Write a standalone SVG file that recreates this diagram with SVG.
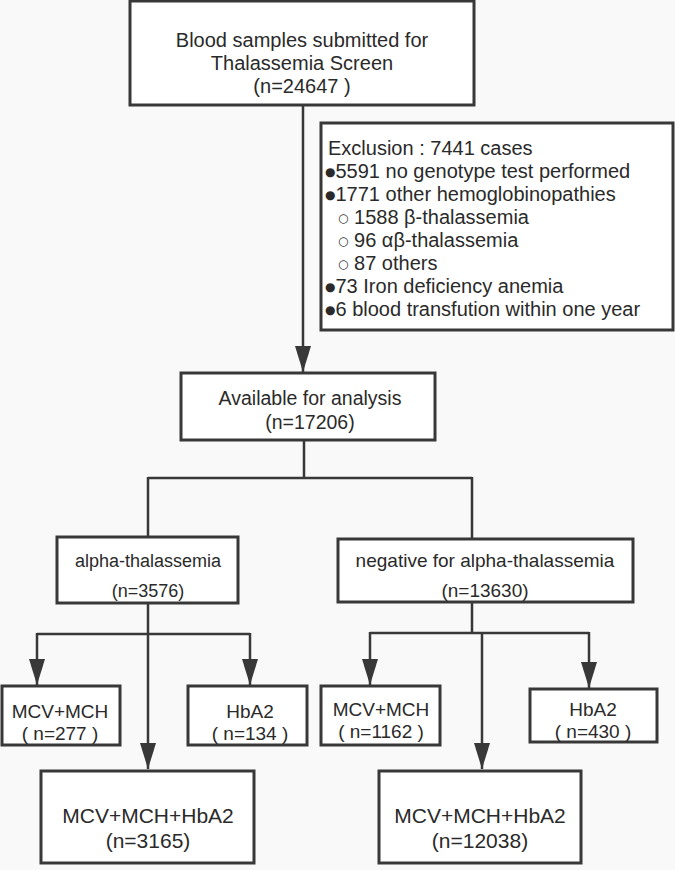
<svg xmlns="http://www.w3.org/2000/svg" width="675" height="870" viewBox="0 0 675 870">
<defs>
<style>
.bg{fill:#f9f9f9}
.box{fill:#ffffff;stroke:#383838;stroke-width:3}
.ln{fill:none;stroke:#383838;stroke-width:2.5}
text{font-family:"Liberation Sans","Arial",sans-serif;fill:#2a2a2a;font-size:20px}
.c{text-anchor:middle}
.b{font-family:"DejaVu Sans",sans-serif;font-size:12px}
.m{font-size:18px}
.n{font-size:19px}
.av{font-size:19.5px}
.r3{font-size:19px}
.lg{font-size:21px}
</style>
<marker id="ah" markerUnits="userSpaceOnUse" markerWidth="26" markerHeight="16" refX="26" refY="8" orient="auto">
<path d="M0,0 L26,8 L0,16 z" fill="#383838"/>
</marker>
</defs>
<rect class="bg" x="0" y="0" width="675" height="870"/>
<g id="connectors">
<path class="ln" d="M303,105 V372" marker-end="url(#ah)"/>
<path class="ln" d="M304,440 V478 M148,478 H472 M148,477 V537 M472,477 V539"/>
<path class="ln" d="M148,603 V769" marker-end="url(#ah)"/>
<path class="ln" d="M37,634 H250"/>
<path class="ln" d="M37,633 V685" marker-end="url(#ah)"/>
<path class="ln" d="M250,633 V685" marker-end="url(#ah)"/>
<path class="ln" d="M472,602 V633 M370,633 H589"/>
<path class="ln" d="M370,632 V685" marker-end="url(#ah)"/>
<path class="ln" d="M589,632 V688" marker-end="url(#ah)"/>
<path class="ln" d="M482,633 V769" marker-end="url(#ah)"/>
</g>
<g id="n_top">
<rect class="box" x="130" y="1" width="344" height="104"/>
<text class="c" x="302" y="47">Blood samples submitted for</text>
<text class="c" x="302" y="70">Thalassemia Screen</text>
<text class="c" x="302" y="93">(n=24647 )</text>
</g>
<g id="n_exclusion">
<rect class="box" x="321" y="123" width="352" height="207"/>
<text x="328" y="155">Exclusion : 7441 cases</text>
<text x="325" y="178"><tspan class="b" dy="-2">●</tspan><tspan dy="2">5591 no genotype test performed</tspan></text>
<text x="325" y="201"><tspan class="b" dy="-2">●</tspan><tspan dy="2">1771 other hemoglobinopathies</tspan></text>
<text x="338" y="224"><tspan class="b" dy="-2">○</tspan><tspan dy="2"> 1588 β-thalassemia</tspan></text>
<text x="338" y="247"><tspan class="b" dy="-2">○</tspan><tspan dy="2"> 96 αβ-thalassemia</tspan></text>
<text x="338" y="270"><tspan class="b" dy="-2">○</tspan><tspan dy="2"> 87 others</tspan></text>
<text x="325" y="293"><tspan class="b" dy="-2">●</tspan><tspan dy="2">73 Iron deficiency anemia</tspan></text>
<text x="325" y="316"><tspan class="b" dy="-2">●</tspan><tspan dy="2">6 blood transfution within one year</tspan></text>
</g>
<g id="n_available">
<rect class="box" x="181" y="373" width="254" height="67"/>
<text class="c av" x="310" y="405">Available for analysis</text>
<text class="c av" x="310" y="429">(n=17206)</text>
</g>
<g id="n_alpha">
<rect class="box" x="57" y="537" width="181" height="66"/>
<text class="c m" x="148" y="567">alpha-thalassemia</text>
<text class="c m" x="148" y="597">(n=3576)</text>
</g>
<g id="n_negative">
<rect class="box" x="338" y="539" width="295" height="63"/>
<text class="c n" x="485" y="567">negative for alpha-thalassemia</text>
<text class="c n" x="485" y="597">(n=13630)</text>
</g>
<g id="n_a_mcvmch">
<rect class="box" x="2" y="686" width="118" height="59"/>
<text class="c r3" x="60" y="718">MCV+MCH</text>
<text class="c r3" x="60" y="740">( n=277 )</text>
</g>
<g id="n_a_hba2">
<rect class="box" x="188" y="686" width="119" height="59"/>
<text class="c r3" x="250" y="718">HbA2</text>
<text class="c r3" x="250" y="740">( n=134 )</text>
</g>
<g id="n_n_mcvmch">
<rect class="box" x="321" y="686" width="119" height="59"/>
<text class="c r3" x="381" y="716">MCV+MCH</text>
<text class="c r3" x="381" y="738">( n=1162 )</text>
</g>
<g id="n_n_hba2">
<rect class="box" x="530" y="689" width="127" height="53"/>
<text class="c r3" x="593" y="716">HbA2</text>
<text class="c r3" x="593" y="738">( n=430 )</text>
</g>
<g id="n_a_all">
<rect class="box" x="41" y="771" width="213" height="92"/>
<text class="c lg" x="148" y="823">MCV+MCH+HbA2</text>
<text class="c lg" x="148" y="848">(n=3165)</text>
</g>
<g id="n_n_all">
<rect class="box" x="379" y="771" width="202" height="92"/>
<text class="c lg" x="480" y="823">MCV+MCH+HbA2</text>
<text class="c lg" x="480" y="848">(n=12038)</text>
</g>
</svg>
